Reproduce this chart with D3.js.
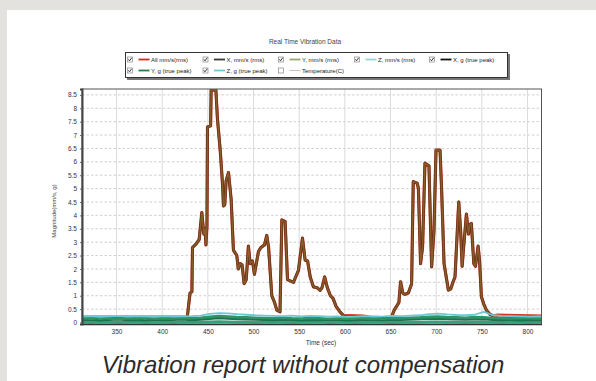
<!DOCTYPE html>
<html>
<head>
<meta charset="utf-8">
<script src="https://cdn.jsdelivr.net/npm/d3@7"></script>
<style>
  html, body { margin: 0; padding: 0; background: #e4e2de; }
  svg { display: block; }
  text { font-family: "Liberation Sans", Arial, sans-serif; }
</style>
</head>
<body>
<svg id="chart" width="596" height="381"></svg>
<script>
// ---- Data -------------------------------------------------------------
const chartTitle = "Real Time Vibration Data";
const caption = "Vibration report without compensation";
const xTicks = [350, 400, 450, 500, 550, 600, 650, 700, 750, 800];
const yTicks = [0, 0.5, 1, 1.5, 2, 2.5, 3, 3.5, 4, 4.5, 5, 5.5, 6, 6.5, 7, 7.5, 8, 8.5];

const legendNames = ["All mm/s(rms)", "X, mm/s (rms)", "Y, mm/s (rms)", "Z, mm/s (rms)", "X, g (true peak)",
                     "Y, g (true peak)", "Z, g (true peak)", "Temperature(C)"];
const legendColors = ["#d42a20", "#3a3a30", "#9aa86a", "#8fd6df", "#111111", "#2d7a4a", "#6ccad4", "#cdbfc6"];
const legendChecked = [true, true, true, true, true, true, true, false];

// First run of the machine (time in sec, magnitude)
const run1Times  = [427.5, 428.8, 430.5, 432.5, 433.2, 437.5, 440.5, 443.4, 445.6, 447.0, 447.9, 449.0,
  449.6, 453.0, 453.6, 458.8, 460.5, 463.5, 466.0, 467.1, 468.5, 470.0, 472.6, 475.5, 478.0, 481.7,
  483.3, 485.4, 487.5, 489.7, 492.0, 494.4, 496.3, 498.8, 501.0, 505.4, 508.0, 512.0, 514.5, 516.5,
  520.0, 523.0, 525.5, 529.0, 531.0, 534.6, 537.2, 543.7, 549.2, 553.6, 556.5, 559.2, 562.1, 565.6,
  569.6, 572.9, 575.0, 577.9, 580.8, 584.2, 587.1, 590.4, 594.6, 598.8];
const run1Values = [0.2, 0.6, 1.1, 1.15, 2.8, 2.95, 3.1, 4.1, 3.3, 3.5, 2.9, 3.6,
  7.3, 7.35, 8.68, 8.68, 7.6, 6.45, 5.2, 4.35, 4.4, 5.3, 5.6, 4.6, 2.7, 2.5,
  2.0, 2.2, 2.15, 1.45, 1.6, 2.85, 2.2, 2.3, 1.8, 2.65, 2.8, 2.9, 3.25, 2.8,
  1.0, 0.75, 0.46, 0.4, 3.83, 3.77, 1.6, 1.5, 1.95, 3.15, 2.33, 2.3, 1.7, 1.33,
  1.3, 1.2, 1.3, 1.7, 1.3, 1.0, 0.9, 0.6, 0.4, 0.25];

// Second run
const run2Times  = [650.5, 654.0, 659.2, 661.0, 663.5, 665.8, 669.5, 673.1, 674.9, 679.3, 680.5, 682.9,
  685.1, 687.7, 692.1, 693.5, 695.0, 697.6, 699.8, 704.2, 706.0, 708.6, 713.3, 715.9, 718.3, 720.6,
  724.7, 726.8, 728.4, 730.0, 733.1, 735.4, 736.8, 738.5, 741.2, 743.0, 745.9, 747.5, 749.5, 752.0,
  755.0, 759.0, 762.3];
const run2Values = [0.15, 0.46, 0.75, 1.52, 1.1, 1.05, 1.1, 1.45, 5.26, 5.2, 5.0, 2.2,
  2.83, 5.95, 5.85, 4.0, 2.08, 3.45, 6.44, 6.44, 4.9, 2.2, 1.21, 1.25, 1.5, 1.7,
  4.5, 3.4, 2.1, 2.8, 4.05, 3.3, 3.65, 3.7, 2.2, 2.1, 2.85, 2.3, 0.96, 0.7,
  0.46, 0.3, 0.25];

// Overall RMS level while idle (before, between and after the runs)
const allLeadTimes = [312.2, 427.0];
const allLeadValues = [0.2, 0.2];
const allGapTimes = [604, 612, 620, 627, 640, 648];
const allGapValues = [0.26, 0.25, 0.24, 0.2, 0.18, 0.17];
const allTailTimes = [768, 775, 790, 805, 815.3];
const allTailValues = [0.28, 0.27, 0.26, 0.25, 0.24];

// Idle level of the per-axis channels
const axisGapTimes = [604, 648];
const axisGapValues = [0.16, 0.16];
const axisTailTimes = [768, 815.3];
const axisTailValues = [0.15, 0.15];

// Background channels sampled every 10 s
const bandTimes = [312, 322, 332, 342, 352, 362, 372, 382, 392, 402, 412, 422, 432, 442, 452, 462, 472,
  482, 492, 502, 512, 522, 532, 542, 552, 562, 572, 582, 592, 602, 612, 622, 632, 642, 652, 662, 672,
  682, 692, 702, 712, 722, 732, 742, 752, 762, 772, 782, 792, 802, 812, 815.3];
const zPeak = [0.22, 0.24, 0.21, 0.23, 0.25, 0.22, 0.24, 0.23, 0.21, 0.24, 0.22, 0.23, 0.24, 0.26, 0.32,
  0.35, 0.34, 0.31, 0.29, 0.27, 0.26, 0.25, 0.24, 0.26, 0.23, 0.25, 0.24, 0.22, 0.23, 0.21, 0.22, 0.24,
  0.22, 0.23, 0.25, 0.24, 0.26, 0.27, 0.31, 0.33, 0.30, 0.28, 0.27, 0.29, 0.40, 0.27, 0.25, 0.24, 0.23,
  0.22, 0.23, 0.22];
const yPeak = [0.16, 0.14, 0.17, 0.15, 0.13, 0.16, 0.15, 0.17, 0.14, 0.16, 0.15, 0.17, 0.16, 0.18, 0.21,
  0.24, 0.22, 0.20, 0.19, 0.18, 0.17, 0.16, 0.18, 0.16, 0.15, 0.17, 0.16, 0.14, 0.16, 0.15, 0.17, 0.15,
  0.16, 0.14, 0.17, 0.16, 0.18, 0.19, 0.21, 0.22, 0.20, 0.19, 0.18, 0.20, 0.19, 0.17, 0.16, 0.15, 0.17,
  0.16, 0.15, 0.16];
const xPeak = [0.09, 0.11, 0.08, 0.10, 0.12, 0.09, 0.10, 0.08, 0.11, 0.09, 0.10, 0.12, 0.09, 0.11, 0.14,
  0.17, 0.15, 0.13, 0.12, 0.11, 0.10, 0.09, 0.11, 0.10, 0.08, 0.10, 0.09, 0.11, 0.10, 0.08, 0.09, 0.11,
  0.10, 0.09, 0.11, 0.10, 0.12, 0.13, 0.15, 0.14, 0.13, 0.12, 0.11, 0.12, 0.13, 0.10, 0.09, 0.10, 0.08,
  0.09, 0.10, 0.09];
const zRms = [0.02, 0.01, 0.03, 0.02, 0.01, 0.02, 0.03, 0.01, 0.02, 0.02, 0.01, 0.03, 0.02, 0.02, 0.03,
  0.04, 0.03, 0.02, 0.02, 0.01, 0.02, 0.03, 0.02, 0.01, 0.02, 0.02, 0.03, 0.01, 0.02, 0.02, 0.01, 0.02,
  0.03, 0.02, 0.01, 0.02, 0.03, 0.02, 0.03, 0.03, 0.02, 0.02, 0.01, 0.02, 0.03, 0.02, 0.01, 0.02, 0.02,
  0.01, 0.02, 0.02];

// ---- Layout ------------------------------------------------------------
const svg = d3.select("#chart");
const plot = { left: 82, right: 541.5, top: 89, bottom: 324 };

const x = d3.scaleLinear().domain([312.2, 815.3]).range([plot.left, plot.right]);
const y = d3.scaleLinear().domain([-0.056, 8.72]).range([plot.bottom, plot.top]);

// page background and white card
svg.append("rect").attr("width", 596).attr("height", 381).attr("fill", "#e4e2de");
svg.append("rect").attr("x", 7).attr("y", 10).attr("width", 600).attr("height", 380).attr("fill", "#ffffff");

// title
svg.append("text").attr("x", 305).attr("y", 44).attr("text-anchor", "middle")
  .attr("font-size", 6.5).attr("fill", "#444").text(chartTitle);

// ---- Legend ------------------------------------------------------------
const lg = svg.append("g");
lg.append("rect").attr("x", 127).attr("y", 54).attr("width", 383).attr("height", 26).attr("fill", "#777");
lg.append("rect").attr("x", 125.5).attr("y", 52.5).attr("width", 382).attr("height", 25)
  .attr("fill", "#fff").attr("stroke", "#333").attr("stroke-width", 1);

const colX = [130, 205.5, 281, 357, 432];
legendNames.forEach((name, i) => {
  const row = i < 5 ? 0 : 1;
  const col = i < 5 ? i : i - 5;
  const cx = colX[col];
  const cy = row === 0 ? 59.5 : 70.5;
  const g = lg.append("g").attr("transform", `translate(${cx},${cy})`);
  g.append("rect").attr("x", -2.5).attr("y", -2.5).attr("width", 5).attr("height", 5)
    .attr("fill", "#fff").attr("stroke", "#888").attr("stroke-width", 0.7);
  if (legendChecked[i]) {
    g.append("path").attr("d", "M-1.6,-0.2 L-0.5,1.3 L1.7,-1.7")
      .attr("fill", "none").attr("stroke", "#222").attr("stroke-width", 0.9);
  }
  g.append("line").attr("x1", 8.5).attr("x2", 19.5).attr("y1", 0).attr("y2", 0)
    .attr("stroke", legendColors[i]).attr("stroke-width", i === 7 ? 1 : 1.8);
  g.append("text").attr("x", 21).attr("y", 2.1).attr("font-size", 6).attr("fill", "#222").text(name);
});

// ---- Grid ----------------------------------------------------------------
const grid = svg.append("g");
grid.selectAll("line.h").data(yTicks.filter(d => d > 0)).join("line")
  .attr("x1", plot.left).attr("x2", plot.right)
  .attr("y1", d => y(d)).attr("y2", d => y(d))
  .attr("stroke", "#c4c4c4").attr("stroke-width", 0.8).attr("stroke-dasharray", "2.5,2");
grid.selectAll("line.v").data(xTicks).join("line")
  .attr("x1", d => x(d)).attr("x2", d => x(d))
  .attr("y1", plot.top).attr("y2", plot.bottom)
  .attr("stroke", "#d2d2d2").attr("stroke-width", 0.8);

// ---- Series ------------------------------------------------------------
const toPts = (ts, vs) => ts.map((t, i) => [t, vs[i]]);
const line = d3.line().x(d => x(d[0])).y(d => y(d[1]));

const allPts = [].concat(toPts(allLeadTimes, allLeadValues), toPts(run1Times, run1Values),
  toPts(allGapTimes, allGapValues), toPts(run2Times, run2Values), toPts(allTailTimes, allTailValues));
const axisPts = [].concat(toPts(run1Times, run1Values), toPts(axisGapTimes, axisGapValues),
  toPts(run2Times, run2Values), toPts(axisTailTimes, axisTailValues));

svg.append("clipPath").attr("id", "plotClip").append("rect")
  .attr("x", plot.left).attr("y", plot.top)
  .attr("width", plot.right - plot.left).attr("height", plot.bottom - plot.top);
const series = svg.append("g").attr("clip-path", "url(#plotClip)");

// All RMS underneath, axis channels overlapping on top of it
series.append("path").attr("d", line(allPts)).attr("fill", "none")
  .attr("stroke", "#d03a22").attr("stroke-width", 3.2).attr("stroke-linejoin", "round");
series.append("path").attr("d", line(axisPts)).attr("fill", "none")
  .attr("stroke", "#4e3418").attr("stroke-width", 2.8).attr("stroke-opacity", 0.85).attr("stroke-linejoin", "round");
series.append("path").attr("d", line(axisPts)).attr("fill", "none")
  .attr("stroke", "#8e5c2b").attr("stroke-width", 1.4).attr("stroke-linejoin", "round");

const band = [
  { v: zRms,  color: "#34a07c", w: 2.6 },
  { v: xPeak, color: "#23704c", w: 2.4 },
  { v: yPeak, color: "#2e9466", w: 2.6 },
  { v: zPeak, color: "#6ccad4", w: 1.8 }
];
band.forEach(s => {
  series.append("path").attr("d", line(toPts(bandTimes, s.v))).attr("fill", "none")
    .attr("stroke", s.color).attr("stroke-width", s.w).attr("stroke-linejoin", "round");
});

// ---- Frame and axes ------------------------------------------------------
svg.append("rect").attr("x", plot.left).attr("y", plot.top)
  .attr("width", plot.right - plot.left).attr("height", plot.bottom - plot.top)
  .attr("fill", "none").attr("stroke", "#555").attr("stroke-width", 1);

const yAxis = svg.append("g").attr("transform", `translate(${plot.left},0)`)
  .call(d3.axisLeft(y).tickValues(yTicks).tickSize(2).tickPadding(3).tickFormat(d => String(d)));
yAxis.select(".domain").attr("stroke", "#444").attr("stroke-width", 2);
yAxis.selectAll(".tick line").attr("stroke", "#666");
yAxis.selectAll("text").attr("font-size", 6.5).attr("fill", "#333")
  .attr("font-family", "Liberation Sans, Arial, sans-serif");

const xAxis = svg.append("g").attr("transform", `translate(0,${plot.bottom})`)
  .call(d3.axisBottom(x).tickValues(xTicks).tickSize(0).tickPadding(5).tickFormat(d3.format("d")));
xAxis.select(".domain").attr("stroke", "#333").attr("stroke-width", 1.5);
xAxis.selectAll("text").attr("font-size", 6.5).attr("fill", "#333")
  .attr("font-family", "Liberation Sans, Arial, sans-serif");

svg.append("text").attr("x", 321).attr("y", 345).attr("text-anchor", "middle")
  .attr("font-size", 6.5).attr("fill", "#333").text("Time (sec)");
svg.append("text").attr("transform", "translate(56,211) rotate(-90)").attr("text-anchor", "middle")
  .attr("font-size", 6).attr("fill", "#444").text("Magnitude(mm/s, g)");

// caption
svg.append("text").attr("x", 303).attr("y", 373).attr("text-anchor", "middle")
  .attr("font-size", 24).attr("font-style", "italic").attr("fill", "#2b2b2b").text(caption);
</script>
</body>
</html>
